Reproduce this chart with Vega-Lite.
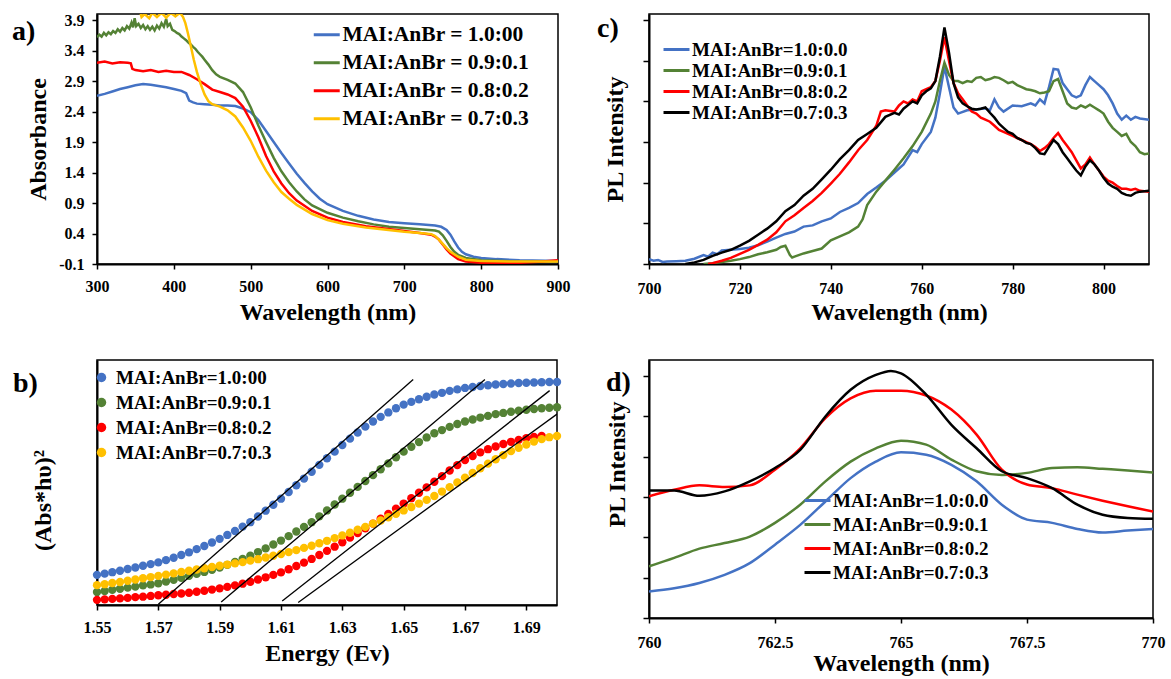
{
"$schema":"https://vega.github.io/schema/vega-lite/v6.json",
"background":"white",
"padding":{"left":11,"top":11,"right":5,"bottom":5},
"bounds":"flush",
"columns":2,
"spacing":{"row":96,"column":91},
"resolve":{"scale":{"color":"independent"},"legend":{"color":"independent"}},
"concat":[
{"width":461,"height":250,
"title":{"text":"a)","anchor":"start","frame":"group","dx":-85,"dy":34,"offset":0},
"data":{"name":"abs"},
"mark":{"type":"line","strokeWidth":2.5,"clip":true},
"encoding":{
"x":{"field":"x","type":"quantitative","scale":{"domain":[300,900],"nice":false,"zero":false},"axis":{"values":[300,400,500,600,700,800,900],"title":"Wavelength (nm)","labelPadding":9,"titlePadding":6}},
"y":{"field":"y","type":"quantitative","scale":{"domain":[-0.1,4.0],"nice":false,"zero":false},"axis":{"values":[-0.1,0.4,0.9,1.4,1.9,2.4,2.9,3.4,3.9],"format":".1f","labelExpr":"replace(datum.label,'\u2212','-')","title":"Absorbance","labelPadding":8,"titlePadding":8}},
"color":{"field":"s","type":"nominal","sort":null,"scale":{"domain":["1.0:00","0.9:0.1","0.8:0.2","0.7:0.3"],"range":["#4472C4","#548235","#FF0000","#FFC000"]},"legend":{"orient":"none","legendX":219,"legendY":10,"title":null,"symbolType":"M-2.5,0H2.5","symbolSize":108,"symbolStrokeWidth":3,"labelFontSize":21.5,"rowPadding":5,"labelOffset":5,"labelExpr":"'MAI:AnBr = ' + datum.label"}}
}},
{"width":500,"height":250,
"title":{"text":"c)","anchor":"start","frame":"group","dx":-52,"dy":29,"offset":0},
"data":{"name":"pl"},
"mark":{"type":"line","strokeWidth":2.5,"clip":true},
"encoding":{
"x":{"field":"x","type":"quantitative","scale":{"domain":[700,810],"nice":false,"zero":false},"axis":{"values":[700,720,740,760,780,800],"title":"Wavelength (nm)","labelPadding":11,"titlePadding":4}},
"y":{"field":"y","type":"quantitative","scale":{"domain":[0,6.15],"nice":false,"zero":false},"axis":{"values":[0,1,2,3,4,5,6],"labels":false,"tickSize":6,"title":"PL Intensity","titlePadding":15}},
"color":{"field":"s","type":"nominal","sort":null,"scale":{"domain":["1.0:0.0","0.9:0.1","0.8:0.2","0.7:0.3"],"range":["#4472C4","#548235","#FF0000","#000000"]},"legend":{"orient":"none","legendX":18,"legendY":26,"title":null,"symbolType":"M-2.5,0H2.5","symbolSize":108,"symbolStrokeWidth":3,"labelFontSize":19,"rowPadding":1,"labelOffset":6,"labelExpr":"'MAI:AnBr=' + datum.label"}}
}},
{"width":460,"height":245,
"title":{"text":"b)","anchor":"start","frame":"group","dx":-84,"dy":38,"offset":0},
"layer":[
{"data":{"name":"tauc"},"mark":{"type":"point","filled":true,"size":70,"opacity":1},
"encoding":{
"x":{"field":"x","type":"quantitative","scale":{"domain":[1.55,1.70],"nice":false,"zero":false},"axis":{"values":[1.55,1.57,1.59,1.61,1.63,1.65,1.67,1.69],"format":".2f","title":"Energy (Ev)","labelPadding":9,"titlePadding":6}},
"y":{"field":"y","type":"quantitative","scale":{"domain":[0,10],"nice":false,"zero":false},"axis":{"labels":false,"ticks":false,"title":"(Abs*hυ)²","titlePadding":42,"titleY":140}},
"color":{"field":"s","type":"nominal","sort":null,"scale":{"domain":["1.0:00","0.9:0.1","0.8:0.2","0.7:0.3"],"range":["#4472C4","#548235","#FF0000","#FFC000"]},"legend":{"orient":"none","legendX":-5,"legendY":8,"title":null,"symbolType":"circle","symbolSize":90,"labelFontSize":19,"rowPadding":5,"labelOffset":5,"labelExpr":"'MAI:AnBr=' + datum.label"}}
}},
{"data":{"name":"fit"},"mark":{"type":"line","color":"black","strokeWidth":1.3,"clip":true},
"encoding":{
"x":{"field":"x","type":"quantitative"},
"y":{"field":"y","type":"quantitative"},
"detail":{"field":"s","type":"nominal"}
}}
]},
{"width":504,"height":258,
"title":{"text":"d)","anchor":"start","frame":"group","dx":-43,"dy":37,"offset":0},
"data":{"name":"zoomd"},
"mark":{"type":"line","strokeWidth":2.5,"interpolate":"monotone","clip":true},
"encoding":{
"x":{"field":"x","type":"quantitative","scale":{"domain":[760,770],"nice":false,"zero":false},"axis":{"values":[760,762.5,765,767.5,770],"labelExpr":"'' + datum.value","title":"Wavelength (nm)","labelPadding":11,"titlePadding":1}},
"y":{"field":"y","type":"quantitative","scale":{"domain":[0,6.4],"nice":false,"zero":false},"axis":{"values":[0,1,2,3,4,5,6],"labels":false,"tickSize":6,"title":"PL Intensity","titlePadding":13,"titleY":104}},
"color":{"field":"s","type":"nominal","sort":null,"scale":{"domain":["1.0:0.0","0.9:0.1","0.8:0.2","0.7:0.3"],"range":["#4472C4","#548235","#FF0000","#000000"]},"legend":{"orient":"none","legendX":159,"legendY":131,"title":null,"symbolType":"M-2.5,0H2.5","symbolSize":108,"symbolStrokeWidth":3,"labelFontSize":19,"rowPadding":4,"labelOffset":6,"labelExpr":"'MAI:AnBr=' + datum.label"}}
}}
],
"datasets":{
"abs":[
{"s":"1.0:00","x":300,"y":2.66},{"s":"1.0:00","x":310,"y":2.69},{"s":"1.0:00","x":320,"y":2.73},{"s":"1.0:00","x":330,"y":2.77},{"s":"1.0:00","x":340,"y":2.8},{"s":"1.0:00","x":350,"y":2.83},{"s":"1.0:00","x":360,"y":2.85},{"s":"1.0:00","x":370,"y":2.84},{"s":"1.0:00","x":380,"y":2.82},{"s":"1.0:00","x":390,"y":2.8},{"s":"1.0:00","x":400,"y":2.77},{"s":"1.0:00","x":410,"y":2.74},{"s":"1.0:00","x":416,"y":2.7},{"s":"1.0:00","x":420,"y":2.58},{"s":"1.0:00","x":425,"y":2.55},{"s":"1.0:00","x":430,"y":2.53},{"s":"1.0:00","x":440,"y":2.52},{"s":"1.0:00","x":450,"y":2.51},{"s":"1.0:00","x":460,"y":2.5},{"s":"1.0:00","x":470,"y":2.5},{"s":"1.0:00","x":480,"y":2.49},{"s":"1.0:00","x":490,"y":2.45},{"s":"1.0:00","x":500,"y":2.39},{"s":"1.0:00","x":510,"y":2.26},{"s":"1.0:00","x":520,"y":2.08},{"s":"1.0:00","x":530,"y":1.9},{"s":"1.0:00","x":540,"y":1.72},{"s":"1.0:00","x":550,"y":1.55},{"s":"1.0:00","x":560,"y":1.38},{"s":"1.0:00","x":570,"y":1.23},{"s":"1.0:00","x":580,"y":1.09},{"s":"1.0:00","x":590,"y":0.97},{"s":"1.0:00","x":600,"y":0.88},{"s":"1.0:00","x":620,"y":0.77},{"s":"1.0:00","x":640,"y":0.69},{"s":"1.0:00","x":660,"y":0.63},{"s":"1.0:00","x":680,"y":0.59},{"s":"1.0:00","x":700,"y":0.57},{"s":"1.0:00","x":720,"y":0.55},{"s":"1.0:00","x":740,"y":0.53},{"s":"1.0:00","x":748,"y":0.51},{"s":"1.0:00","x":755,"y":0.46},{"s":"1.0:00","x":760,"y":0.38},{"s":"1.0:00","x":765,"y":0.27},{"s":"1.0:00","x":770,"y":0.17},{"s":"1.0:00","x":775,"y":0.1},{"s":"1.0:00","x":780,"y":0.06},{"s":"1.0:00","x":790,"y":0.02},{"s":"1.0:00","x":800,"y":0.0},{"s":"1.0:00","x":820,"y":-0.02},{"s":"1.0:00","x":850,"y":-0.04},{"s":"1.0:00","x":900,"y":-0.05},
{"s":"0.9:0.1","x":300,"y":3.62},{"s":"0.9:0.1","x":303,"y":3.66},{"s":"0.9:0.1","x":306,"y":3.63},{"s":"0.9:0.1","x":309,"y":3.69},{"s":"0.9:0.1","x":312,"y":3.65},{"s":"0.9:0.1","x":315,"y":3.7},{"s":"0.9:0.1","x":318,"y":3.67},{"s":"0.9:0.1","x":321,"y":3.72},{"s":"0.9:0.1","x":324,"y":3.69},{"s":"0.9:0.1","x":327,"y":3.75},{"s":"0.9:0.1","x":330,"y":3.71},{"s":"0.9:0.1","x":333,"y":3.77},{"s":"0.9:0.1","x":336,"y":3.73},{"s":"0.9:0.1","x":339,"y":3.8},{"s":"0.9:0.1","x":342,"y":3.76},{"s":"0.9:0.1","x":345,"y":3.86},{"s":"0.9:0.1","x":347,"y":3.78},{"s":"0.9:0.1","x":349,"y":3.93},{"s":"0.9:0.1","x":351,"y":3.8},{"s":"0.9:0.1","x":354,"y":3.84},{"s":"0.9:0.1","x":357,"y":3.77},{"s":"0.9:0.1","x":360,"y":3.82},{"s":"0.9:0.1","x":363,"y":3.75},{"s":"0.9:0.1","x":366,"y":3.8},{"s":"0.9:0.1","x":369,"y":3.74},{"s":"0.9:0.1","x":372,"y":3.79},{"s":"0.9:0.1","x":375,"y":3.73},{"s":"0.9:0.1","x":378,"y":3.81},{"s":"0.9:0.1","x":381,"y":3.76},{"s":"0.9:0.1","x":384,"y":3.85},{"s":"0.9:0.1","x":387,"y":3.79},{"s":"0.9:0.1","x":390,"y":3.92},{"s":"0.9:0.1","x":392,"y":3.8},{"s":"0.9:0.1","x":395,"y":3.84},{"s":"0.9:0.1","x":398,"y":3.74},{"s":"0.9:0.1","x":401,"y":3.72},{"s":"0.9:0.1","x":404,"y":3.69},{"s":"0.9:0.1","x":407,"y":3.67},{"s":"0.9:0.1","x":410,"y":3.63},{"s":"0.9:0.1","x":413,"y":3.6},{"s":"0.9:0.1","x":416,"y":3.57},{"s":"0.9:0.1","x":419,"y":3.53},{"s":"0.9:0.1","x":422,"y":3.5},{"s":"0.9:0.1","x":425,"y":3.46},{"s":"0.9:0.1","x":428,"y":3.43},{"s":"0.9:0.1","x":431,"y":3.38},{"s":"0.9:0.1","x":434,"y":3.34},{"s":"0.9:0.1","x":437,"y":3.3},{"s":"0.9:0.1","x":440,"y":3.25},{"s":"0.9:0.1","x":445,"y":3.17},{"s":"0.9:0.1","x":450,"y":3.08},{"s":"0.9:0.1","x":455,"y":3.01},{"s":"0.9:0.1","x":460,"y":2.97},{"s":"0.9:0.1","x":470,"y":2.92},{"s":"0.9:0.1","x":480,"y":2.86},{"s":"0.9:0.1","x":490,"y":2.72},{"s":"0.9:0.1","x":500,"y":2.47},{"s":"0.9:0.1","x":510,"y":2.17},{"s":"0.9:0.1","x":520,"y":1.9},{"s":"0.9:0.1","x":530,"y":1.64},{"s":"0.9:0.1","x":540,"y":1.42},{"s":"0.9:0.1","x":550,"y":1.24},{"s":"0.9:0.1","x":560,"y":1.09},{"s":"0.9:0.1","x":570,"y":0.96},{"s":"0.9:0.1","x":580,"y":0.86},{"s":"0.9:0.1","x":600,"y":0.74},{"s":"0.9:0.1","x":620,"y":0.66},{"s":"0.9:0.1","x":640,"y":0.6},{"s":"0.9:0.1","x":660,"y":0.55},{"s":"0.9:0.1","x":680,"y":0.51},{"s":"0.9:0.1","x":700,"y":0.49},{"s":"0.9:0.1","x":720,"y":0.47},{"s":"0.9:0.1","x":740,"y":0.45},{"s":"0.9:0.1","x":745,"y":0.43},{"s":"0.9:0.1","x":750,"y":0.37},{"s":"0.9:0.1","x":755,"y":0.28},{"s":"0.9:0.1","x":760,"y":0.18},{"s":"0.9:0.1","x":765,"y":0.1},{"s":"0.9:0.1","x":770,"y":0.05},{"s":"0.9:0.1","x":780,"y":0.0},{"s":"0.9:0.1","x":800,"y":-0.04},{"s":"0.9:0.1","x":850,"y":-0.06},{"s":"0.9:0.1","x":900,"y":-0.06},
{"s":"0.8:0.2","x":300,"y":3.2},{"s":"0.8:0.2","x":310,"y":3.22},{"s":"0.8:0.2","x":320,"y":3.19},{"s":"0.8:0.2","x":330,"y":3.21},{"s":"0.8:0.2","x":340,"y":3.2},{"s":"0.8:0.2","x":344,"y":3.19},{"s":"0.8:0.2","x":346,"y":3.1},{"s":"0.8:0.2","x":350,"y":3.08},{"s":"0.8:0.2","x":360,"y":3.06},{"s":"0.8:0.2","x":370,"y":3.08},{"s":"0.8:0.2","x":380,"y":3.05},{"s":"0.8:0.2","x":390,"y":3.07},{"s":"0.8:0.2","x":400,"y":3.05},{"s":"0.8:0.2","x":410,"y":3.05},{"s":"0.8:0.2","x":420,"y":3.0},{"s":"0.8:0.2","x":430,"y":2.93},{"s":"0.8:0.2","x":440,"y":2.85},{"s":"0.8:0.2","x":450,"y":2.76},{"s":"0.8:0.2","x":460,"y":2.72},{"s":"0.8:0.2","x":470,"y":2.68},{"s":"0.8:0.2","x":480,"y":2.62},{"s":"0.8:0.2","x":490,"y":2.48},{"s":"0.8:0.2","x":500,"y":2.25},{"s":"0.8:0.2","x":510,"y":1.98},{"s":"0.8:0.2","x":520,"y":1.67},{"s":"0.8:0.2","x":530,"y":1.42},{"s":"0.8:0.2","x":540,"y":1.22},{"s":"0.8:0.2","x":550,"y":1.06},{"s":"0.8:0.2","x":560,"y":0.94},{"s":"0.8:0.2","x":580,"y":0.77},{"s":"0.8:0.2","x":600,"y":0.66},{"s":"0.8:0.2","x":620,"y":0.59},{"s":"0.8:0.2","x":650,"y":0.52},{"s":"0.8:0.2","x":700,"y":0.44},{"s":"0.8:0.2","x":720,"y":0.41},{"s":"0.8:0.2","x":735,"y":0.38},{"s":"0.8:0.2","x":740,"y":0.35},{"s":"0.8:0.2","x":745,"y":0.3},{"s":"0.8:0.2","x":750,"y":0.22},{"s":"0.8:0.2","x":755,"y":0.14},{"s":"0.8:0.2","x":760,"y":0.07},{"s":"0.8:0.2","x":770,"y":-0.02},{"s":"0.8:0.2","x":780,"y":-0.06},{"s":"0.8:0.2","x":800,"y":-0.08},{"s":"0.8:0.2","x":850,"y":-0.08},{"s":"0.8:0.2","x":880,"y":-0.06},{"s":"0.8:0.2","x":900,"y":-0.04},
{"s":"0.7:0.3","x":300,"y":4.6},{"s":"0.7:0.3","x":340,"y":4.3},{"s":"0.7:0.3","x":356,"y":4.05},{"s":"0.7:0.3","x":358,"y":3.95},{"s":"0.7:0.3","x":362,"y":4.0},{"s":"0.7:0.3","x":368,"y":3.93},{"s":"0.7:0.3","x":372,"y":4.02},{"s":"0.7:0.3","x":378,"y":3.95},{"s":"0.7:0.3","x":384,"y":4.02},{"s":"0.7:0.3","x":390,"y":3.94},{"s":"0.7:0.3","x":396,"y":4.02},{"s":"0.7:0.3","x":402,"y":3.96},{"s":"0.7:0.3","x":408,"y":4.02},{"s":"0.7:0.3","x":412,"y":3.95},{"s":"0.7:0.3","x":415,"y":3.85},{"s":"0.7:0.3","x":418,"y":3.7},{"s":"0.7:0.3","x":422,"y":3.48},{"s":"0.7:0.3","x":426,"y":3.25},{"s":"0.7:0.3","x":430,"y":3.05},{"s":"0.7:0.3","x":435,"y":2.85},{"s":"0.7:0.3","x":440,"y":2.68},{"s":"0.7:0.3","x":445,"y":2.57},{"s":"0.7:0.3","x":450,"y":2.52},{"s":"0.7:0.3","x":460,"y":2.48},{"s":"0.7:0.3","x":470,"y":2.42},{"s":"0.7:0.3","x":480,"y":2.32},{"s":"0.7:0.3","x":490,"y":2.14},{"s":"0.7:0.3","x":500,"y":1.92},{"s":"0.7:0.3","x":510,"y":1.66},{"s":"0.7:0.3","x":520,"y":1.43},{"s":"0.7:0.3","x":530,"y":1.24},{"s":"0.7:0.3","x":540,"y":1.08},{"s":"0.7:0.3","x":550,"y":0.97},{"s":"0.7:0.3","x":560,"y":0.87},{"s":"0.7:0.3","x":580,"y":0.72},{"s":"0.7:0.3","x":600,"y":0.62},{"s":"0.7:0.3","x":620,"y":0.56},{"s":"0.7:0.3","x":650,"y":0.5},{"s":"0.7:0.3","x":700,"y":0.43},{"s":"0.7:0.3","x":720,"y":0.41},{"s":"0.7:0.3","x":735,"y":0.39},{"s":"0.7:0.3","x":740,"y":0.36},{"s":"0.7:0.3","x":745,"y":0.3},{"s":"0.7:0.3","x":750,"y":0.23},{"s":"0.7:0.3","x":755,"y":0.16},{"s":"0.7:0.3","x":760,"y":0.1},{"s":"0.7:0.3","x":770,"y":0.02},{"s":"0.7:0.3","x":780,"y":-0.03},{"s":"0.7:0.3","x":800,"y":-0.05},{"s":"0.7:0.3","x":850,"y":-0.06},{"s":"0.7:0.3","x":900,"y":-0.06}
],
"pl":[
{"s":"1.0:0.0","x":700,"y":0.12},{"s":"1.0:0.0","x":701,"y":0.08},{"s":"1.0:0.0","x":702,"y":0.1},{"s":"1.0:0.0","x":703,"y":0.05},{"s":"1.0:0.0","x":704,"y":0.06},{"s":"1.0:0.0","x":706,"y":0.07},{"s":"1.0:0.0","x":708,"y":0.08},{"s":"1.0:0.0","x":710,"y":0.13},{"s":"1.0:0.0","x":712,"y":0.22},{"s":"1.0:0.0","x":713,"y":0.18},{"s":"1.0:0.0","x":714,"y":0.28},{"s":"1.0:0.0","x":715,"y":0.24},{"s":"1.0:0.0","x":716,"y":0.33},{"s":"1.0:0.0","x":718,"y":0.35},{"s":"1.0:0.0","x":720,"y":0.37},{"s":"1.0:0.0","x":722,"y":0.4},{"s":"1.0:0.0","x":724,"y":0.46},{"s":"1.0:0.0","x":726,"y":0.55},{"s":"1.0:0.0","x":728,"y":0.65},{"s":"1.0:0.0","x":730,"y":0.74},{"s":"1.0:0.0","x":732,"y":0.8},{"s":"1.0:0.0","x":734,"y":0.92},{"s":"1.0:0.0","x":736,"y":0.95},{"s":"1.0:0.0","x":738,"y":1.05},{"s":"1.0:0.0","x":740,"y":1.12},{"s":"1.0:0.0","x":742,"y":1.28},{"s":"1.0:0.0","x":744,"y":1.38},{"s":"1.0:0.0","x":746,"y":1.5},{"s":"1.0:0.0","x":748,"y":1.72},{"s":"1.0:0.0","x":750,"y":1.88},{"s":"1.0:0.0","x":752,"y":2.05},{"s":"1.0:0.0","x":754,"y":2.25},{"s":"1.0:0.0","x":756,"y":2.45},{"s":"1.0:0.0","x":758,"y":2.8},{"s":"1.0:0.0","x":759,"y":2.75},{"s":"1.0:0.0","x":760,"y":2.95},{"s":"1.0:0.0","x":762,"y":3.25},{"s":"1.0:0.0","x":763,"y":3.6},{"s":"1.0:0.0","x":764,"y":4.2},{"s":"1.0:0.0","x":765,"y":4.85},{"s":"1.0:0.0","x":766,"y":4.35},{"s":"1.0:0.0","x":767,"y":3.85},{"s":"1.0:0.0","x":768,"y":3.7},{"s":"1.0:0.0","x":770,"y":3.78},{"s":"1.0:0.0","x":772,"y":3.8},{"s":"1.0:0.0","x":774,"y":3.83},{"s":"1.0:0.0","x":775,"y":3.78},{"s":"1.0:0.0","x":776,"y":4.05},{"s":"1.0:0.0","x":777,"y":3.85},{"s":"1.0:0.0","x":778,"y":3.75},{"s":"1.0:0.0","x":780,"y":3.9},{"s":"1.0:0.0","x":782,"y":3.88},{"s":"1.0:0.0","x":784,"y":3.95},{"s":"1.0:0.0","x":785,"y":3.9},{"s":"1.0:0.0","x":786,"y":4.05},{"s":"1.0:0.0","x":787,"y":3.95},{"s":"1.0:0.0","x":788,"y":4.35},{"s":"1.0:0.0","x":789,"y":4.8},{"s":"1.0:0.0","x":790,"y":4.78},{"s":"1.0:0.0","x":791,"y":4.45},{"s":"1.0:0.0","x":792,"y":4.3},{"s":"1.0:0.0","x":793,"y":4.15},{"s":"1.0:0.0","x":794,"y":4.1},{"s":"1.0:0.0","x":795,"y":4.15},{"s":"1.0:0.0","x":796,"y":4.4},{"s":"1.0:0.0","x":797,"y":4.6},{"s":"1.0:0.0","x":798,"y":4.5},{"s":"1.0:0.0","x":799,"y":4.4},{"s":"1.0:0.0","x":800,"y":4.3},{"s":"1.0:0.0","x":801,"y":4.15},{"s":"1.0:0.0","x":802,"y":3.95},{"s":"1.0:0.0","x":803,"y":3.7},{"s":"1.0:0.0","x":804,"y":3.55},{"s":"1.0:0.0","x":805,"y":3.65},{"s":"1.0:0.0","x":806,"y":3.55},{"s":"1.0:0.0","x":807,"y":3.62},{"s":"1.0:0.0","x":808,"y":3.58},{"s":"1.0:0.0","x":810,"y":3.55},
{"s":"0.9:0.1","x":712,"y":0.0},{"s":"0.9:0.1","x":714,"y":0.02},{"s":"0.9:0.1","x":716,"y":0.05},{"s":"0.9:0.1","x":718,"y":0.08},{"s":"0.9:0.1","x":720,"y":0.12},{"s":"0.9:0.1","x":722,"y":0.17},{"s":"0.9:0.1","x":724,"y":0.24},{"s":"0.9:0.1","x":726,"y":0.29},{"s":"0.9:0.1","x":728,"y":0.35},{"s":"0.9:0.1","x":729,"y":0.42},{"s":"0.9:0.1","x":730,"y":0.45},{"s":"0.9:0.1","x":731,"y":0.22},{"s":"0.9:0.1","x":731.5,"y":0.16},{"s":"0.9:0.1","x":732,"y":0.18},{"s":"0.9:0.1","x":734,"y":0.26},{"s":"0.9:0.1","x":736,"y":0.32},{"s":"0.9:0.1","x":738,"y":0.38},{"s":"0.9:0.1","x":740,"y":0.58},{"s":"0.9:0.1","x":742,"y":0.68},{"s":"0.9:0.1","x":744,"y":0.78},{"s":"0.9:0.1","x":746,"y":0.92},{"s":"0.9:0.1","x":747,"y":1.1},{"s":"0.9:0.1","x":748,"y":1.45},{"s":"0.9:0.1","x":750,"y":1.78},{"s":"0.9:0.1","x":752,"y":2.05},{"s":"0.9:0.1","x":754,"y":2.32},{"s":"0.9:0.1","x":756,"y":2.6},{"s":"0.9:0.1","x":758,"y":2.9},{"s":"0.9:0.1","x":760,"y":3.25},{"s":"0.9:0.1","x":762,"y":3.7},{"s":"0.9:0.1","x":763,"y":4.0},{"s":"0.9:0.1","x":764,"y":4.5},{"s":"0.9:0.1","x":765,"y":4.95},{"s":"0.9:0.1","x":766,"y":4.65},{"s":"0.9:0.1","x":767,"y":4.5},{"s":"0.9:0.1","x":768,"y":4.5},{"s":"0.9:0.1","x":769,"y":4.45},{"s":"0.9:0.1","x":770,"y":4.5},{"s":"0.9:0.1","x":771,"y":4.48},{"s":"0.9:0.1","x":772,"y":4.58},{"s":"0.9:0.1","x":773,"y":4.6},{"s":"0.9:0.1","x":774,"y":4.52},{"s":"0.9:0.1","x":775,"y":4.55},{"s":"0.9:0.1","x":776,"y":4.6},{"s":"0.9:0.1","x":777,"y":4.58},{"s":"0.9:0.1","x":778,"y":4.52},{"s":"0.9:0.1","x":779,"y":4.45},{"s":"0.9:0.1","x":780,"y":4.48},{"s":"0.9:0.1","x":781,"y":4.4},{"s":"0.9:0.1","x":782,"y":4.35},{"s":"0.9:0.1","x":783,"y":4.3},{"s":"0.9:0.1","x":784,"y":4.28},{"s":"0.9:0.1","x":785,"y":4.25},{"s":"0.9:0.1","x":786,"y":4.2},{"s":"0.9:0.1","x":787,"y":4.22},{"s":"0.9:0.1","x":788,"y":4.25},{"s":"0.9:0.1","x":789,"y":4.5},{"s":"0.9:0.1","x":790,"y":4.55},{"s":"0.9:0.1","x":791,"y":4.25},{"s":"0.9:0.1","x":792,"y":3.95},{"s":"0.9:0.1","x":793,"y":3.85},{"s":"0.9:0.1","x":794,"y":3.82},{"s":"0.9:0.1","x":795,"y":3.9},{"s":"0.9:0.1","x":796,"y":3.85},{"s":"0.9:0.1","x":797,"y":3.92},{"s":"0.9:0.1","x":798,"y":3.85},{"s":"0.9:0.1","x":799,"y":3.78},{"s":"0.9:0.1","x":800,"y":3.7},{"s":"0.9:0.1","x":801,"y":3.5},{"s":"0.9:0.1","x":802,"y":3.35},{"s":"0.9:0.1","x":803,"y":3.25},{"s":"0.9:0.1","x":804,"y":3.15},{"s":"0.9:0.1","x":805,"y":3.2},{"s":"0.9:0.1","x":806,"y":3.0},{"s":"0.9:0.1","x":807,"y":2.9},{"s":"0.9:0.1","x":808,"y":2.75},{"s":"0.9:0.1","x":809,"y":2.7},{"s":"0.9:0.1","x":810,"y":2.72},
{"s":"0.8:0.2","x":713,"y":0.0},{"s":"0.8:0.2","x":714,"y":0.02},{"s":"0.8:0.2","x":716,"y":0.08},{"s":"0.8:0.2","x":718,"y":0.15},{"s":"0.8:0.2","x":720,"y":0.25},{"s":"0.8:0.2","x":722,"y":0.35},{"s":"0.8:0.2","x":724,"y":0.47},{"s":"0.8:0.2","x":726,"y":0.6},{"s":"0.8:0.2","x":728,"y":0.78},{"s":"0.8:0.2","x":730,"y":1.05},{"s":"0.8:0.2","x":732,"y":1.2},{"s":"0.8:0.2","x":734,"y":1.38},{"s":"0.8:0.2","x":736,"y":1.55},{"s":"0.8:0.2","x":738,"y":1.75},{"s":"0.8:0.2","x":740,"y":1.98},{"s":"0.8:0.2","x":742,"y":2.22},{"s":"0.8:0.2","x":744,"y":2.5},{"s":"0.8:0.2","x":746,"y":2.8},{"s":"0.8:0.2","x":748,"y":3.05},{"s":"0.8:0.2","x":750,"y":3.4},{"s":"0.8:0.2","x":751,"y":3.75},{"s":"0.8:0.2","x":752,"y":3.78},{"s":"0.8:0.2","x":754,"y":3.75},{"s":"0.8:0.2","x":755,"y":3.9},{"s":"0.8:0.2","x":756,"y":4.0},{"s":"0.8:0.2","x":757,"y":3.95},{"s":"0.8:0.2","x":758,"y":4.05},{"s":"0.8:0.2","x":759,"y":4.0},{"s":"0.8:0.2","x":760,"y":4.25},{"s":"0.8:0.2","x":761,"y":4.3},{"s":"0.8:0.2","x":762,"y":4.35},{"s":"0.8:0.2","x":763,"y":4.5},{"s":"0.8:0.2","x":764,"y":5.0},{"s":"0.8:0.2","x":765,"y":5.58},{"s":"0.8:0.2","x":766,"y":5.0},{"s":"0.8:0.2","x":767,"y":4.45},{"s":"0.8:0.2","x":768,"y":4.2},{"s":"0.8:0.2","x":769,"y":4.05},{"s":"0.8:0.2","x":770,"y":3.9},{"s":"0.8:0.2","x":771,"y":3.75},{"s":"0.8:0.2","x":772,"y":3.7},{"s":"0.8:0.2","x":773,"y":3.6},{"s":"0.8:0.2","x":774,"y":3.55},{"s":"0.8:0.2","x":775,"y":3.5},{"s":"0.8:0.2","x":776,"y":3.4},{"s":"0.8:0.2","x":777,"y":3.3},{"s":"0.8:0.2","x":778,"y":3.25},{"s":"0.8:0.2","x":779,"y":3.2},{"s":"0.8:0.2","x":780,"y":3.15},{"s":"0.8:0.2","x":781,"y":3.1},{"s":"0.8:0.2","x":782,"y":3.05},{"s":"0.8:0.2","x":783,"y":3.0},{"s":"0.8:0.2","x":784,"y":2.95},{"s":"0.8:0.2","x":785,"y":2.88},{"s":"0.8:0.2","x":786,"y":2.78},{"s":"0.8:0.2","x":787,"y":2.85},{"s":"0.8:0.2","x":788,"y":2.95},{"s":"0.8:0.2","x":789,"y":3.1},{"s":"0.8:0.2","x":790,"y":3.22},{"s":"0.8:0.2","x":791,"y":3.05},{"s":"0.8:0.2","x":792,"y":2.9},{"s":"0.8:0.2","x":793,"y":2.75},{"s":"0.8:0.2","x":794,"y":2.55},{"s":"0.8:0.2","x":795,"y":2.35},{"s":"0.8:0.2","x":796,"y":2.45},{"s":"0.8:0.2","x":797,"y":2.62},{"s":"0.8:0.2","x":798,"y":2.45},{"s":"0.8:0.2","x":799,"y":2.3},{"s":"0.8:0.2","x":800,"y":2.15},{"s":"0.8:0.2","x":801,"y":2.05},{"s":"0.8:0.2","x":802,"y":2.0},{"s":"0.8:0.2","x":803,"y":1.92},{"s":"0.8:0.2","x":804,"y":1.85},{"s":"0.8:0.2","x":805,"y":1.85},{"s":"0.8:0.2","x":806,"y":1.82},{"s":"0.8:0.2","x":807,"y":1.85},{"s":"0.8:0.2","x":808,"y":1.8},{"s":"0.8:0.2","x":810,"y":1.78},
{"s":"0.7:0.3","x":708,"y":0.0},{"s":"0.7:0.3","x":710,"y":0.04},{"s":"0.7:0.3","x":712,"y":0.1},{"s":"0.7:0.3","x":714,"y":0.2},{"s":"0.7:0.3","x":716,"y":0.28},{"s":"0.7:0.3","x":718,"y":0.35},{"s":"0.7:0.3","x":720,"y":0.45},{"s":"0.7:0.3","x":722,"y":0.57},{"s":"0.7:0.3","x":724,"y":0.72},{"s":"0.7:0.3","x":726,"y":0.87},{"s":"0.7:0.3","x":728,"y":1.05},{"s":"0.7:0.3","x":730,"y":1.3},{"s":"0.7:0.3","x":732,"y":1.45},{"s":"0.7:0.3","x":734,"y":1.68},{"s":"0.7:0.3","x":736,"y":1.85},{"s":"0.7:0.3","x":738,"y":2.08},{"s":"0.7:0.3","x":740,"y":2.32},{"s":"0.7:0.3","x":742,"y":2.58},{"s":"0.7:0.3","x":744,"y":2.8},{"s":"0.7:0.3","x":746,"y":3.05},{"s":"0.7:0.3","x":748,"y":3.2},{"s":"0.7:0.3","x":750,"y":3.35},{"s":"0.7:0.3","x":752,"y":3.62},{"s":"0.7:0.3","x":754,"y":3.72},{"s":"0.7:0.3","x":755,"y":3.68},{"s":"0.7:0.3","x":756,"y":3.82},{"s":"0.7:0.3","x":758,"y":4.0},{"s":"0.7:0.3","x":759,"y":3.95},{"s":"0.7:0.3","x":760,"y":4.15},{"s":"0.7:0.3","x":761,"y":4.25},{"s":"0.7:0.3","x":762,"y":4.32},{"s":"0.7:0.3","x":763,"y":4.5},{"s":"0.7:0.3","x":764,"y":5.1},{"s":"0.7:0.3","x":765,"y":5.82},{"s":"0.7:0.3","x":766,"y":5.2},{"s":"0.7:0.3","x":767,"y":4.45},{"s":"0.7:0.3","x":768,"y":4.1},{"s":"0.7:0.3","x":769,"y":3.95},{"s":"0.7:0.3","x":770,"y":3.88},{"s":"0.7:0.3","x":771,"y":3.82},{"s":"0.7:0.3","x":772,"y":3.8},{"s":"0.7:0.3","x":773,"y":3.82},{"s":"0.7:0.3","x":774,"y":3.85},{"s":"0.7:0.3","x":775,"y":3.72},{"s":"0.7:0.3","x":776,"y":3.6},{"s":"0.7:0.3","x":777,"y":3.45},{"s":"0.7:0.3","x":778,"y":3.35},{"s":"0.7:0.3","x":779,"y":3.25},{"s":"0.7:0.3","x":780,"y":3.2},{"s":"0.7:0.3","x":781,"y":3.1},{"s":"0.7:0.3","x":782,"y":3.05},{"s":"0.7:0.3","x":783,"y":2.98},{"s":"0.7:0.3","x":784,"y":2.95},{"s":"0.7:0.3","x":785,"y":2.85},{"s":"0.7:0.3","x":786,"y":2.72},{"s":"0.7:0.3","x":787,"y":2.7},{"s":"0.7:0.3","x":788,"y":2.88},{"s":"0.7:0.3","x":789,"y":3.05},{"s":"0.7:0.3","x":790,"y":2.95},{"s":"0.7:0.3","x":791,"y":2.75},{"s":"0.7:0.3","x":792,"y":2.6},{"s":"0.7:0.3","x":793,"y":2.45},{"s":"0.7:0.3","x":794,"y":2.3},{"s":"0.7:0.3","x":795,"y":2.18},{"s":"0.7:0.3","x":796,"y":2.4},{"s":"0.7:0.3","x":797,"y":2.55},{"s":"0.7:0.3","x":798,"y":2.45},{"s":"0.7:0.3","x":799,"y":2.3},{"s":"0.7:0.3","x":800,"y":2.12},{"s":"0.7:0.3","x":801,"y":1.98},{"s":"0.7:0.3","x":802,"y":1.9},{"s":"0.7:0.3","x":803,"y":1.85},{"s":"0.7:0.3","x":804,"y":1.75},{"s":"0.7:0.3","x":805,"y":1.7},{"s":"0.7:0.3","x":806,"y":1.68},{"s":"0.7:0.3","x":807,"y":1.75},{"s":"0.7:0.3","x":808,"y":1.78},{"s":"0.7:0.3","x":810,"y":1.8}
],
"tauc":[
{"s":"1.0:00","x":1.55,"y":1.23},{"s":"1.0:00","x":1.5525,"y":1.28},{"s":"1.0:00","x":1.555,"y":1.34},{"s":"1.0:00","x":1.5575,"y":1.4},{"s":"1.0:00","x":1.56,"y":1.47},{"s":"1.0:00","x":1.5625,"y":1.53},{"s":"1.0:00","x":1.565,"y":1.6},{"s":"1.0:00","x":1.5675,"y":1.67},{"s":"1.0:00","x":1.57,"y":1.74},{"s":"1.0:00","x":1.5725,"y":1.83},{"s":"1.0:00","x":1.575,"y":1.93},{"s":"1.0:00","x":1.5775,"y":2.04},{"s":"1.0:00","x":1.58,"y":2.15},{"s":"1.0:00","x":1.5825,"y":2.28},{"s":"1.0:00","x":1.585,"y":2.41},{"s":"1.0:00","x":1.5875,"y":2.55},{"s":"1.0:00","x":1.59,"y":2.7},{"s":"1.0:00","x":1.5925,"y":2.86},{"s":"1.0:00","x":1.595,"y":3.02},{"s":"1.0:00","x":1.5975,"y":3.2},{"s":"1.0:00","x":1.6,"y":3.38},{"s":"1.0:00","x":1.6025,"y":3.61},{"s":"1.0:00","x":1.605,"y":3.85},{"s":"1.0:00","x":1.6075,"y":4.09},{"s":"1.0:00","x":1.61,"y":4.34},{"s":"1.0:00","x":1.6125,"y":4.61},{"s":"1.0:00","x":1.615,"y":4.89},{"s":"1.0:00","x":1.6175,"y":5.16},{"s":"1.0:00","x":1.62,"y":5.44},{"s":"1.0:00","x":1.6225,"y":5.72},{"s":"1.0:00","x":1.625,"y":5.99},{"s":"1.0:00","x":1.6275,"y":6.26},{"s":"1.0:00","x":1.63,"y":6.53},{"s":"1.0:00","x":1.6325,"y":6.79},{"s":"1.0:00","x":1.635,"y":7.04},{"s":"1.0:00","x":1.6375,"y":7.28},{"s":"1.0:00","x":1.64,"y":7.49},{"s":"1.0:00","x":1.6425,"y":7.68},{"s":"1.0:00","x":1.645,"y":7.86},{"s":"1.0:00","x":1.6475,"y":8.03},{"s":"1.0:00","x":1.65,"y":8.18},{"s":"1.0:00","x":1.6525,"y":8.29},{"s":"1.0:00","x":1.655,"y":8.4},{"s":"1.0:00","x":1.6575,"y":8.5},{"s":"1.0:00","x":1.66,"y":8.59},{"s":"1.0:00","x":1.6625,"y":8.66},{"s":"1.0:00","x":1.665,"y":8.74},{"s":"1.0:00","x":1.6675,"y":8.8},{"s":"1.0:00","x":1.67,"y":8.86},{"s":"1.0:00","x":1.6725,"y":8.9},{"s":"1.0:00","x":1.675,"y":8.94},{"s":"1.0:00","x":1.6775,"y":8.97},{"s":"1.0:00","x":1.68,"y":9.0},{"s":"1.0:00","x":1.6825,"y":9.02},{"s":"1.0:00","x":1.685,"y":9.04},{"s":"1.0:00","x":1.6875,"y":9.06},{"s":"1.0:00","x":1.69,"y":9.07},{"s":"1.0:00","x":1.6925,"y":9.08},{"s":"1.0:00","x":1.695,"y":9.09},{"s":"1.0:00","x":1.6975,"y":9.1},{"s":"1.0:00","x":1.7,"y":9.1},
{"s":"0.9:0.1","x":1.55,"y":0.53},{"s":"0.9:0.1","x":1.5525,"y":0.57},{"s":"0.9:0.1","x":1.555,"y":0.62},{"s":"0.9:0.1","x":1.5575,"y":0.66},{"s":"0.9:0.1","x":1.56,"y":0.71},{"s":"0.9:0.1","x":1.5625,"y":0.75},{"s":"0.9:0.1","x":1.565,"y":0.8},{"s":"0.9:0.1","x":1.5675,"y":0.84},{"s":"0.9:0.1","x":1.57,"y":0.89},{"s":"0.9:0.1","x":1.5725,"y":0.96},{"s":"0.9:0.1","x":1.575,"y":1.03},{"s":"0.9:0.1","x":1.5775,"y":1.11},{"s":"0.9:0.1","x":1.58,"y":1.19},{"s":"0.9:0.1","x":1.5825,"y":1.27},{"s":"0.9:0.1","x":1.585,"y":1.35},{"s":"0.9:0.1","x":1.5875,"y":1.44},{"s":"0.9:0.1","x":1.59,"y":1.53},{"s":"0.9:0.1","x":1.5925,"y":1.64},{"s":"0.9:0.1","x":1.595,"y":1.76},{"s":"0.9:0.1","x":1.5975,"y":1.88},{"s":"0.9:0.1","x":1.6,"y":2.01},{"s":"0.9:0.1","x":1.6025,"y":2.16},{"s":"0.9:0.1","x":1.605,"y":2.31},{"s":"0.9:0.1","x":1.6075,"y":2.47},{"s":"0.9:0.1","x":1.61,"y":2.63},{"s":"0.9:0.1","x":1.6125,"y":2.81},{"s":"0.9:0.1","x":1.615,"y":3.0},{"s":"0.9:0.1","x":1.6175,"y":3.19},{"s":"0.9:0.1","x":1.62,"y":3.38},{"s":"0.9:0.1","x":1.6225,"y":3.62},{"s":"0.9:0.1","x":1.625,"y":3.86},{"s":"0.9:0.1","x":1.6275,"y":4.1},{"s":"0.9:0.1","x":1.63,"y":4.34},{"s":"0.9:0.1","x":1.6325,"y":4.58},{"s":"0.9:0.1","x":1.635,"y":4.82},{"s":"0.9:0.1","x":1.6375,"y":5.06},{"s":"0.9:0.1","x":1.64,"y":5.3},{"s":"0.9:0.1","x":1.6425,"y":5.54},{"s":"0.9:0.1","x":1.645,"y":5.78},{"s":"0.9:0.1","x":1.6475,"y":6.03},{"s":"0.9:0.1","x":1.65,"y":6.26},{"s":"0.9:0.1","x":1.6525,"y":6.46},{"s":"0.9:0.1","x":1.655,"y":6.65},{"s":"0.9:0.1","x":1.6575,"y":6.84},{"s":"0.9:0.1","x":1.66,"y":7.01},{"s":"0.9:0.1","x":1.6625,"y":7.14},{"s":"0.9:0.1","x":1.665,"y":7.27},{"s":"0.9:0.1","x":1.6675,"y":7.39},{"s":"0.9:0.1","x":1.67,"y":7.49},{"s":"0.9:0.1","x":1.6725,"y":7.57},{"s":"0.9:0.1","x":1.675,"y":7.65},{"s":"0.9:0.1","x":1.6775,"y":7.72},{"s":"0.9:0.1","x":1.68,"y":7.79},{"s":"0.9:0.1","x":1.6825,"y":7.84},{"s":"0.9:0.1","x":1.685,"y":7.89},{"s":"0.9:0.1","x":1.6875,"y":7.93},{"s":"0.9:0.1","x":1.69,"y":7.97},{"s":"0.9:0.1","x":1.6925,"y":8.0},{"s":"0.9:0.1","x":1.695,"y":8.03},{"s":"0.9:0.1","x":1.6975,"y":8.05},{"s":"0.9:0.1","x":1.7,"y":8.07},
{"s":"0.8:0.2","x":1.55,"y":0.21},{"s":"0.8:0.2","x":1.5525,"y":0.23},{"s":"0.8:0.2","x":1.555,"y":0.25},{"s":"0.8:0.2","x":1.5575,"y":0.27},{"s":"0.8:0.2","x":1.56,"y":0.29},{"s":"0.8:0.2","x":1.5625,"y":0.32},{"s":"0.8:0.2","x":1.565,"y":0.34},{"s":"0.8:0.2","x":1.5675,"y":0.37},{"s":"0.8:0.2","x":1.57,"y":0.4},{"s":"0.8:0.2","x":1.5725,"y":0.42},{"s":"0.8:0.2","x":1.575,"y":0.45},{"s":"0.8:0.2","x":1.5775,"y":0.47},{"s":"0.8:0.2","x":1.58,"y":0.5},{"s":"0.8:0.2","x":1.5825,"y":0.54},{"s":"0.8:0.2","x":1.585,"y":0.58},{"s":"0.8:0.2","x":1.5875,"y":0.63},{"s":"0.8:0.2","x":1.59,"y":0.68},{"s":"0.8:0.2","x":1.5925,"y":0.74},{"s":"0.8:0.2","x":1.595,"y":0.8},{"s":"0.8:0.2","x":1.5975,"y":0.87},{"s":"0.8:0.2","x":1.6,"y":0.95},{"s":"0.8:0.2","x":1.6025,"y":1.04},{"s":"0.8:0.2","x":1.605,"y":1.13},{"s":"0.8:0.2","x":1.6075,"y":1.23},{"s":"0.8:0.2","x":1.61,"y":1.33},{"s":"0.8:0.2","x":1.6125,"y":1.46},{"s":"0.8:0.2","x":1.615,"y":1.59},{"s":"0.8:0.2","x":1.6175,"y":1.73},{"s":"0.8:0.2","x":1.62,"y":1.88},{"s":"0.8:0.2","x":1.6225,"y":2.04},{"s":"0.8:0.2","x":1.625,"y":2.21},{"s":"0.8:0.2","x":1.6275,"y":2.38},{"s":"0.8:0.2","x":1.63,"y":2.56},{"s":"0.8:0.2","x":1.6325,"y":2.75},{"s":"0.8:0.2","x":1.635,"y":2.94},{"s":"0.8:0.2","x":1.6375,"y":3.13},{"s":"0.8:0.2","x":1.64,"y":3.32},{"s":"0.8:0.2","x":1.6425,"y":3.52},{"s":"0.8:0.2","x":1.645,"y":3.72},{"s":"0.8:0.2","x":1.6475,"y":3.93},{"s":"0.8:0.2","x":1.65,"y":4.14},{"s":"0.8:0.2","x":1.6525,"y":4.36},{"s":"0.8:0.2","x":1.655,"y":4.58},{"s":"0.8:0.2","x":1.6575,"y":4.8},{"s":"0.8:0.2","x":1.66,"y":5.03},{"s":"0.8:0.2","x":1.6625,"y":5.26},{"s":"0.8:0.2","x":1.665,"y":5.49},{"s":"0.8:0.2","x":1.6675,"y":5.71},{"s":"0.8:0.2","x":1.67,"y":5.92},{"s":"0.8:0.2","x":1.6725,"y":6.08},{"s":"0.8:0.2","x":1.675,"y":6.23},{"s":"0.8:0.2","x":1.6775,"y":6.36},{"s":"0.8:0.2","x":1.68,"y":6.47},{"s":"0.8:0.2","x":1.6825,"y":6.57},{"s":"0.8:0.2","x":1.685,"y":6.66},{"s":"0.8:0.2","x":1.6875,"y":6.74},{"s":"0.8:0.2","x":1.69,"y":6.81},{"s":"0.8:0.2","x":1.6925,"y":6.86},{"s":"0.8:0.2","x":1.695,"y":6.9},
{"s":"0.7:0.3","x":1.55,"y":0.81},{"s":"0.7:0.3","x":1.5525,"y":0.85},{"s":"0.7:0.3","x":1.555,"y":0.9},{"s":"0.7:0.3","x":1.5575,"y":0.94},{"s":"0.7:0.3","x":1.56,"y":0.99},{"s":"0.7:0.3","x":1.5625,"y":1.04},{"s":"0.7:0.3","x":1.565,"y":1.09},{"s":"0.7:0.3","x":1.5675,"y":1.14},{"s":"0.7:0.3","x":1.57,"y":1.19},{"s":"0.7:0.3","x":1.5725,"y":1.24},{"s":"0.7:0.3","x":1.575,"y":1.29},{"s":"0.7:0.3","x":1.5775,"y":1.35},{"s":"0.7:0.3","x":1.58,"y":1.4},{"s":"0.7:0.3","x":1.5825,"y":1.45},{"s":"0.7:0.3","x":1.585,"y":1.5},{"s":"0.7:0.3","x":1.5875,"y":1.55},{"s":"0.7:0.3","x":1.59,"y":1.6},{"s":"0.7:0.3","x":1.5925,"y":1.65},{"s":"0.7:0.3","x":1.595,"y":1.7},{"s":"0.7:0.3","x":1.5975,"y":1.75},{"s":"0.7:0.3","x":1.6,"y":1.81},{"s":"0.7:0.3","x":1.6025,"y":1.87},{"s":"0.7:0.3","x":1.605,"y":1.94},{"s":"0.7:0.3","x":1.6075,"y":2.01},{"s":"0.7:0.3","x":1.61,"y":2.08},{"s":"0.7:0.3","x":1.6125,"y":2.16},{"s":"0.7:0.3","x":1.615,"y":2.24},{"s":"0.7:0.3","x":1.6175,"y":2.33},{"s":"0.7:0.3","x":1.62,"y":2.42},{"s":"0.7:0.3","x":1.6225,"y":2.52},{"s":"0.7:0.3","x":1.625,"y":2.62},{"s":"0.7:0.3","x":1.6275,"y":2.73},{"s":"0.7:0.3","x":1.63,"y":2.84},{"s":"0.7:0.3","x":1.6325,"y":2.95},{"s":"0.7:0.3","x":1.635,"y":3.07},{"s":"0.7:0.3","x":1.6375,"y":3.19},{"s":"0.7:0.3","x":1.64,"y":3.32},{"s":"0.7:0.3","x":1.6425,"y":3.45},{"s":"0.7:0.3","x":1.645,"y":3.58},{"s":"0.7:0.3","x":1.6475,"y":3.72},{"s":"0.7:0.3","x":1.65,"y":3.86},{"s":"0.7:0.3","x":1.6525,"y":4.0},{"s":"0.7:0.3","x":1.655,"y":4.14},{"s":"0.7:0.3","x":1.6575,"y":4.29},{"s":"0.7:0.3","x":1.66,"y":4.45},{"s":"0.7:0.3","x":1.6625,"y":4.63},{"s":"0.7:0.3","x":1.665,"y":4.81},{"s":"0.7:0.3","x":1.6675,"y":5.0},{"s":"0.7:0.3","x":1.67,"y":5.2},{"s":"0.7:0.3","x":1.6725,"y":5.39},{"s":"0.7:0.3","x":1.675,"y":5.58},{"s":"0.7:0.3","x":1.6775,"y":5.77},{"s":"0.7:0.3","x":1.68,"y":5.95},{"s":"0.7:0.3","x":1.6825,"y":6.12},{"s":"0.7:0.3","x":1.685,"y":6.28},{"s":"0.7:0.3","x":1.6875,"y":6.42},{"s":"0.7:0.3","x":1.69,"y":6.55},{"s":"0.7:0.3","x":1.6925,"y":6.67},{"s":"0.7:0.3","x":1.695,"y":6.77},{"s":"0.7:0.3","x":1.6975,"y":6.85},{"s":"0.7:0.3","x":1.7,"y":6.9}
],
"fit":[
{"s":"f1","x":1.57,"y":0.03},{"s":"f1","x":1.6531,"y":9.2},
{"s":"f2","x":1.5905,"y":0.12},{"s":"f2","x":1.6765,"y":9.2},
{"s":"f3","x":1.6104,"y":0.16},{"s":"f3","x":1.6976,"y":8.75},
{"s":"f4","x":1.6156,"y":0.1},{"s":"f4","x":1.7,"y":7.79}
],
"zoomd":[
{"s":"1.0:0.0","x":760,"y":0.66},{"s":"1.0:0.0","x":760.5,"y":0.74},{"s":"1.0:0.0","x":761,"y":0.87},{"s":"1.0:0.0","x":761.5,"y":1.07},{"s":"1.0:0.0","x":762,"y":1.36},{"s":"1.0:0.0","x":762.5,"y":1.82},{"s":"1.0:0.0","x":763,"y":2.31},{"s":"1.0:0.0","x":763.5,"y":2.89},{"s":"1.0:0.0","x":764,"y":3.47},{"s":"1.0:0.0","x":764.5,"y":3.88},{"s":"1.0:0.0","x":765,"y":4.11},{"s":"1.0:0.0","x":765.5,"y":4.05},{"s":"1.0:0.0","x":766,"y":3.8},{"s":"1.0:0.0","x":766.5,"y":3.39},{"s":"1.0:0.0","x":767,"y":2.81},{"s":"1.0:0.0","x":767.5,"y":2.44},{"s":"1.0:0.0","x":768,"y":2.36},{"s":"1.0:0.0","x":768.5,"y":2.21},{"s":"1.0:0.0","x":769,"y":2.12},{"s":"1.0:0.0","x":769.5,"y":2.17},{"s":"1.0:0.0","x":770,"y":2.21},
{"s":"0.9:0.1","x":760,"y":1.28},{"s":"0.9:0.1","x":760.5,"y":1.49},{"s":"0.9:0.1","x":761,"y":1.72},{"s":"0.9:0.1","x":761.5,"y":1.86},{"s":"0.9:0.1","x":762,"y":2.02},{"s":"0.9:0.1","x":762.5,"y":2.36},{"s":"0.9:0.1","x":763,"y":2.81},{"s":"0.9:0.1","x":763.5,"y":3.39},{"s":"0.9:0.1","x":764,"y":3.88},{"s":"0.9:0.1","x":764.5,"y":4.21},{"s":"0.9:0.1","x":765,"y":4.4},{"s":"0.9:0.1","x":765.5,"y":4.3},{"s":"0.9:0.1","x":766,"y":3.93},{"s":"0.9:0.1","x":766.5,"y":3.64},{"s":"0.9:0.1","x":767,"y":3.55},{"s":"0.9:0.1","x":767.5,"y":3.6},{"s":"0.9:0.1","x":768,"y":3.72},{"s":"0.9:0.1","x":768.5,"y":3.74},{"s":"0.9:0.1","x":769,"y":3.7},{"s":"0.9:0.1","x":769.5,"y":3.66},{"s":"0.9:0.1","x":770,"y":3.61},
{"s":"0.8:0.2","x":760,"y":3.02},{"s":"0.8:0.2","x":760.5,"y":3.18},{"s":"0.8:0.2","x":761,"y":3.29},{"s":"0.8:0.2","x":761.5,"y":3.25},{"s":"0.8:0.2","x":762,"y":3.29},{"s":"0.8:0.2","x":762.5,"y":3.68},{"s":"0.8:0.2","x":763,"y":4.21},{"s":"0.8:0.2","x":763.5,"y":4.96},{"s":"0.8:0.2","x":764,"y":5.45},{"s":"0.8:0.2","x":764.5,"y":5.64},{"s":"0.8:0.2","x":765,"y":5.64},{"s":"0.8:0.2","x":765.5,"y":5.52},{"s":"0.8:0.2","x":766,"y":5.17},{"s":"0.8:0.2","x":766.5,"y":4.55},{"s":"0.8:0.2","x":767,"y":3.68},{"s":"0.8:0.2","x":767.5,"y":3.31},{"s":"0.8:0.2","x":768,"y":3.22},{"s":"0.8:0.2","x":768.5,"y":3.06},{"s":"0.8:0.2","x":769,"y":2.91},{"s":"0.8:0.2","x":769.5,"y":2.77},{"s":"0.8:0.2","x":770,"y":2.64},
{"s":"0.7:0.3","x":760,"y":3.16},{"s":"0.7:0.3","x":760.5,"y":3.16},{"s":"0.7:0.3","x":761,"y":3.03},{"s":"0.7:0.3","x":761.5,"y":3.14},{"s":"0.7:0.3","x":762,"y":3.39},{"s":"0.7:0.3","x":762.5,"y":3.72},{"s":"0.7:0.3","x":763,"y":4.17},{"s":"0.7:0.3","x":763.5,"y":5.0},{"s":"0.7:0.3","x":764,"y":5.66},{"s":"0.7:0.3","x":764.5,"y":6.03},{"s":"0.7:0.3","x":764.8,"y":6.13},{"s":"0.7:0.3","x":765,"y":6.07},{"s":"0.7:0.3","x":765.5,"y":5.54},{"s":"0.7:0.3","x":766,"y":4.79},{"s":"0.7:0.3","x":766.5,"y":4.21},{"s":"0.7:0.3","x":767,"y":3.64},{"s":"0.7:0.3","x":767.5,"y":3.47},{"s":"0.7:0.3","x":768,"y":3.22},{"s":"0.7:0.3","x":768.5,"y":2.81},{"s":"0.7:0.3","x":769,"y":2.56},{"s":"0.7:0.3","x":769.5,"y":2.48},{"s":"0.7:0.3","x":770,"y":2.46}
]
},
"config":{
"font":"Liberation Serif",
"axis":{"labelFont":"Liberation Serif","labelFontWeight":"bold","labelFontSize":16,"labelColor":"#000","labelFlush":false,"labelOverlap":false,"titleFont":"Liberation Serif","titleFontWeight":"bold","titleFontSize":24,"titleColor":"#000","domainColor":"#000","domainWidth":2,"tickColor":"#000","tickWidth":1.5,"tickSize":5,"grid":false},
"legend":{"labelFont":"Liberation Serif","labelFontWeight":"bold","labelColor":"#000","padding":0,"labelLimit":400},
"title":{"font":"Liberation Serif","fontWeight":"bold","fontSize":28,"color":"#000"},
"view":{"stroke":"#000","strokeWidth":1.5}
}
}
